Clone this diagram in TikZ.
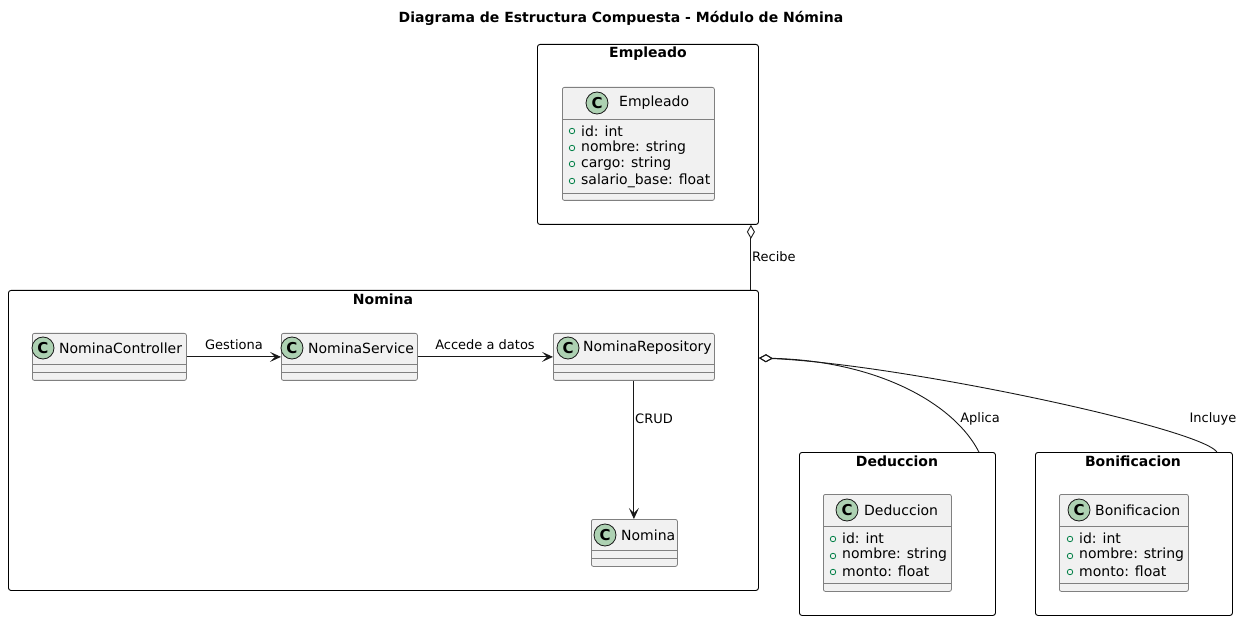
\documentclass[tikz,border=0pt]{standalone}
\usepackage{fontspec}
\setmainfont{DejaVu Sans}
\usetikzlibrary{arrows.meta}
\definecolor{edgec}{HTML}{181818}
\definecolor{clsbg}{HTML}{F1F1F1}
\definecolor{clsbd}{HTML}{808080}
\definecolor{badge}{HTML}{ADD1B2}
\definecolor{attrc}{HTML}{038048}
\tikzset{
  pkg/.style={draw=black, line width=0.9pt, rounded corners=2.5pt, anchor=north west, inner sep=0pt},
  cls/.style={draw=clsbd, fill=clsbg, line width=0.8pt, rounded corners=2pt, anchor=north west, inner sep=0pt},
  sep/.style={draw=clsbd, line width=0.8pt},
  cbadge/.style={circle, draw=edgec, fill=badge, line width=0.8pt, minimum size=22pt, inner sep=0pt, font=\fontsize{15pt}{16pt}\selectfont\bfseries},
  cname/.style={anchor=west, inner sep=0pt, font=\fontsize{14pt}{16pt}\selectfont},
  attrtxt/.style={anchor=west, inner sep=0pt, font=\fontsize{14pt}{16pt}\selectfont},
  attrdot/.style={circle, draw=attrc, line width=0.8pt, minimum size=5.5pt, inner sep=0pt},
  ptitle/.style={inner sep=0pt, font=\fontsize{14pt}{16pt}\selectfont\bfseries},
  elabel/.style={inner sep=0pt, font=\fontsize{13pt}{15pt}\selectfont},
  edge/.style={draw=edgec, line width=0.9pt},
  dep/.style={edge, -{Stealth[length=11pt,width=10pt,inset=5pt]}},
  agg/.style={edge, -{Diamond[open, length=14pt, width=8pt, line width=0.9pt]}},
}
\begin{document}
\begin{tikzpicture}[x=1pt, y=-1pt]
\useasboundingbox (0,0) rectangle (1243,620);

% title
\node[ptitle] (title) at (621,18) {Diagrama de Estructura Compuesta - Módulo de Nómina};

% packages
\node[pkg, minimum width=221pt, minimum height=180pt] (pEmp) at (537,44) {};
\node[ptitle] (pEmpT) at (648,54) {Empleado};
\node[pkg, minimum width=750pt, minimum height=300pt] (pNom) at (8,290) {};
\node[ptitle] (pNomT) at (383,299) {Nomina};
\node[pkg, minimum width=196pt, minimum height=163pt] (pDed) at (799,452) {};
\node[ptitle] (pDedT) at (897,461) {Deduccion};
\node[pkg, minimum width=197pt, minimum height=163pt] (pBon) at (1035,452) {};
\node[ptitle] (pBonT) at (1133,461) {Bonificacion};

% class Empleado
\node[cls, minimum width=152pt, minimum height=113pt] (cEmp) at (562,87) {};
\node[cbadge] (cEmpC) at (597,103) {C};
\node[cname] (cEmpN) at (619,103) {Empleado};
\draw[sep] (562,119) -- (714,119);
\draw[sep] (562,193) -- (714,193);
\node[attrdot] (eD1) at (572,131) {};
\node[attrtxt] (eA1) at (581,131) {id: int};
\node[attrdot] (eD2) at (572,148) {};
\node[attrtxt] (eA2) at (581,148) {nombre: string};
\node[attrdot] (eD3) at (572,164) {};
\node[attrtxt] (eA3) at (581,164) {cargo: string};
\node[attrdot] (eD4) at (572,181) {};
\node[attrtxt] (eA4) at (581,181) {salario\_base: float};

% class NominaController
\node[cls, minimum width=154pt, minimum height=47pt] (cCtrl) at (32,333) {};
\node[cbadge] (cCtrlC) at (43,348) {C};
\node[cname] (cCtrlN) at (59,348) {NominaController};
\draw[sep] (32,364) -- (186,364);
\draw[sep] (32,372) -- (186,372);

% class NominaService
\node[cls, minimum width=136pt, minimum height=47pt] (cServ) at (281,333) {};
\node[cbadge] (cServC) at (292,348) {C};
\node[cname] (cServN) at (308,348) {NominaService};
\draw[sep] (281,364) -- (417,364);
\draw[sep] (281,372) -- (417,372);

% class NominaRepository
\node[cls, minimum width=161pt, minimum height=47pt] (cRepo) at (553,333) {};
\node[cbadge] (cRepoC) at (568,348) {C};
\node[cname] (cRepoN) at (583,348) {NominaRepository};
\draw[sep] (553,364) -- (714,364);
\draw[sep] (553,372) -- (714,372);

% class Nomina
\node[cls, minimum width=86pt, minimum height=47pt] (cNom) at (591,519) {};
\node[cbadge] (cNomC) at (605,535) {C};
\node[cname] (cNomN) at (621,535) {Nomina};
\draw[sep] (591,550) -- (677,550);
\draw[sep] (591,558) -- (677,558);

% class Deduccion
\node[cls, minimum width=128pt, minimum height=97pt] (cDed) at (823,494) {};
\node[cbadge] (cDedC) at (847,510) {C};
\node[cname] (cDedN) at (864,510) {Deduccion};
\draw[sep] (823,526) -- (951,526);
\draw[sep] (823,583) -- (951,583);
\node[attrdot] (dD1) at (833,539) {};
\node[attrtxt] (dA1) at (842,538) {id: int};
\node[attrdot] (dD2) at (833,556) {};
\node[attrtxt] (dA2) at (842,555) {nombre: string};
\node[attrdot] (dD3) at (833,572) {};
\node[attrtxt] (dA3) at (842,571) {monto: float};

% class Bonificacion
\node[cls, minimum width=129pt, minimum height=97pt] (cBon) at (1059,494) {};
\node[cbadge] (cBonC) at (1079,510) {C};
\node[cname] (cBonN) at (1095,510) {Bonificacion};
\draw[sep] (1059,526) -- (1188,526);
\draw[sep] (1059,583) -- (1188,583);
\node[attrdot] (bD1) at (1070,539) {};
\node[attrtxt] (bA1) at (1079,538) {id: int};
\node[attrdot] (bD2) at (1070,556) {};
\node[attrtxt] (bA2) at (1079,555) {nombre: string};
\node[attrdot] (bD3) at (1070,572) {};
\node[attrtxt] (bA3) at (1079,571) {monto: float};

% connectors
\draw[dep] (cCtrl.east) -- (cServ.west);
\node[elabel] (lGest) at (234,345) {Gestiona};
\draw[dep] (cServ.east) -- (cRepo.west);
\node[elabel] (lAcc) at (485,345) {Accede a datos};
\draw[dep] (cRepo.south) -- (cRepo.south |- cNom.north);
\node[elabel, anchor=west] (lCrud) at (635,419) {CRUD};

\draw[agg] ([xshift=-8pt]pNom.north east) -- ([xshift=-8pt]pEmp.south east);
\node[elabel, anchor=west] (lRec) at (752,257) {Recibe};

\draw[agg] ([xshift=-17pt]pDed.north east) .. controls (955,405) and (880,361) .. ([yshift=-68pt]pNom.north east);
\node[elabel] (lApl) at (980,419) {Aplica};
\draw[agg] ([xshift=-16pt]pBon.north east) .. controls (1200,428) and (900,364) .. ([yshift=-68pt]pNom.north east);
\node[elabel] (lInc) at (1213,419) {Incluye};
\end{tikzpicture}
\end{document}
